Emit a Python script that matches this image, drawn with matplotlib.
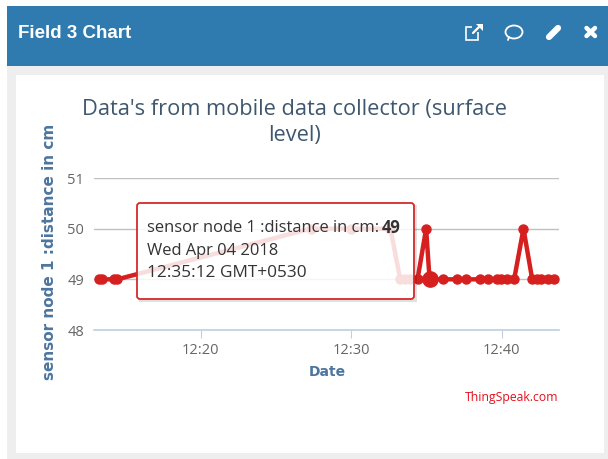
import matplotlib
matplotlib.use("Agg")
import matplotlib.pyplot as plt
from matplotlib.patches import Ellipse, FancyBboxPatch, Polygon, Rectangle
from matplotlib.lines import Line2D
from matplotlib.transforms import IdentityTransform

# minutes after 12:00
times = [13.2, 13.45, 14.2, 14.45, 27.3, 30.0, 32.6, 33.25, 33.55, 33.9, 34.4, 34.97, 35.2, 36.1, 37.0,
         37.6, 38.56, 39.08, 39.67, 39.96, 40.34, 40.82, 41.44, 42.02, 42.33, 42.6, 43.08, 43.44]
distance = [49, 49, 49, 49, 50, 50, 50, 49, 49, 49, 49, 50, 49, 49, 49,
            49, 49, 49, 49, 49, 49, 49, 50, 49, 49, 49, 49, 49]
y_ticks = [48, 49, 50, 51]
x_ticks = [20, 30, 40]
x_labels = ["12:20", "12:30", "12:40"]
hover_time = 35.2
hover_value = 49

W, H = 608, 459
plt.rcParams["font.family"] = ["Open Sans", "DejaVu Sans"]
fig = plt.figure(figsize=(W / 100, H / 100), dpi=100, facecolor="#eeeeee")
px = IdentityTransform()


def box(x, y, w, h, color, alpha=1.0, z=0):
    # pixel box, y from the top of the picture
    fig.add_artist(Rectangle((x, H - y - h), w, h, transform=px, facecolor=color, edgecolor="none",
                             alpha=alpha, zorder=z))


def stroke(x0, y0, x1, y1, lw):
    fig.add_artist(Line2D([x0, x1], [H - y0, H - y1], transform=px, color="white", linewidth=lw,
                          solid_capstyle="round", zorder=2))


box(0, 0, W, 6, "#ffffff")
box(0, 0, 7, H, "#ffffff")
box(7, 6, W - 7, 60, "#2f7bb0")
box(16, 75, 588, 378, "#ffffff")

fig.text(18 / W, 1 - 33 / H, "Field 3 Chart", color="white", fontsize=13.5, fontweight="bold",
         family="Liberation Sans", va="center", ha="left")

# header icons
fig.add_artist(Rectangle((465.5, H - 39.5), 12, 13, transform=px, facecolor="none", edgecolor="white",
                         linewidth=1.2, zorder=2))
box(472, 24, 12, 8, "#2f7bb0", z=2)
stroke(473, 33, 481, 25, 1.6)
fig.add_artist(Polygon([(483, H - 24), (476, H - 24), (483, H - 31)], transform=px, facecolor="white",
                       edgecolor="none", zorder=3))
fig.add_artist(Ellipse((514, H - 32), 17, 13, transform=px, facecolor="none", edgecolor="white",
                       linewidth=1.3, zorder=2))
stroke(509, 37, 508, 40, 1.3)
stroke(549, 37, 558, 28, 4.5)
stroke(586.5, 28, 595, 36, 3.2)
stroke(595, 28, 586.5, 36, 3.2)

ax = fig.add_axes([94 / W, 1 - 330 / H, 465 / W, 152 / H])
ax.patch.set_alpha(0)
ax.set_xlim(12.9, 43.8)
ax.set_ylim(48, 51)
ax.plot(times, distance, color="#d62020", linewidth=3.2, marker="o", markersize=6.5, zorder=3,
        solid_joinstyle="round", clip_on=False)
ax.plot([hover_time], [hover_value], color="#d62020", marker="o", markersize=11, zorder=4, clip_on=False)

ax.set_yticks(y_ticks)
ax.set_xticks(x_ticks)
ax.set_xticklabels(x_labels)
ax.grid(axis="y", color="#c0c0c0", linewidth=1)
ax.set_axisbelow(True)
for s in ["top", "left", "right"]:
    ax.spines[s].set_visible(False)
ax.spines["bottom"].set_color("#c0d0e0")
ax.spines["bottom"].set_linewidth(1.2)
ax.tick_params(axis="y", length=0, labelsize=10.5, labelcolor="#666666", pad=7)
ax.tick_params(axis="x", length=6, color="#c0d0e0", labelsize=10.5, labelcolor="#666666", pad=3)

fig.text(295 / W, 1 - 110 / H, "Data's from mobile data collector (surface", color="#3e576f",
         fontsize=15.7, ha="center", va="center", family="Open Sans")
fig.text(295 / W, 1 - 135 / H, "level)", color="#3e576f", fontsize=15.7, ha="center", va="center",
         family="Open Sans")
fig.text(50 / W, 1 - 252 / H, "sensor node 1 :distance in cm", color="#4d759e", fontsize=11,
         fontweight="bold", rotation=90, ha="center", va="center", family="DejaVu Sans")
fig.text(327 / W, 1 - 372 / H, "Date", color="#4d759e", fontsize=10, fontweight="bold",
         ha="center", va="center", family="DejaVu Sans")
fig.text(558 / W, 1 - 397 / H, "ThingSpeak.com", color="#e8101c", fontsize=8.8, ha="right", va="center",
         family="Open Sans")

# tooltip, shadow only outside the box so the fill stays white
box(139, 299, 278, 3, "#000000", alpha=0.12, z=5)
box(414, 205, 3, 94, "#000000", alpha=0.12, z=5)
fig.add_artist(FancyBboxPatch((137, H - 299), 277, 96, boxstyle="round,pad=0,rounding_size=3", transform=px,
                              facecolor=(1, 1, 1, 0.85), edgecolor="#d62a2a", linewidth=1.3, zorder=6))
fig.text(147 / W, 1 - 228 / H, "sensor node 1 :distance in cm:", color="#333333", fontsize=11.9,
         ha="left", va="center", family="Open Sans", zorder=7)
fig.text(401 / W, 1 - 228 / H, str(hover_value), color="#333333", fontsize=11.9, fontweight="bold",
         ha="right", va="center", family="Open Sans", zorder=7)
fig.text(147 / W, 1 - 251 / H, "Wed Apr 04 2018", color="#333333", fontsize=11.9, ha="left", va="center",
         family="Open Sans", zorder=7)
fig.text(147 / W, 1 - 273 / H, "12:35:12 GMT+0530", color="#333333", fontsize=12.4, ha="left", va="center",
         family="Open Sans", zorder=7)

fig.savefig("out.png", dpi=100, facecolor=fig.get_facecolor())
